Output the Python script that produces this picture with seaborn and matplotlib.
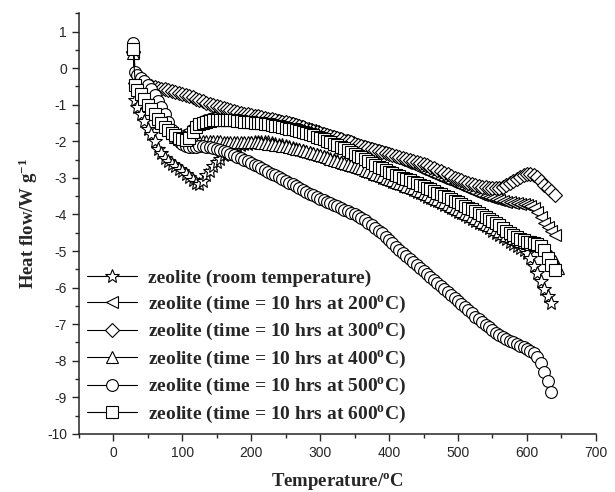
import matplotlib
matplotlib.use("Agg")
import matplotlib.pyplot as plt
import seaborn as sns
from matplotlib.ticker import MultipleLocator

# Temperature readings (degC), shared by all runs; each run uses as many as it has
temperature = [
    29, 32, 35, 40, 45, 50, 55, 60, 65, 70,
    75, 80, 85, 90, 95, 100, 105, 110, 115, 120,
    125, 130, 135, 140, 145, 150, 155, 160, 165, 170,
    175, 180, 185, 190, 195, 200, 205, 210, 215, 220,
    225, 230, 235, 240, 245, 250, 255, 260, 265, 270,
    275, 280, 285, 290, 295, 300, 305, 310, 315, 320,
    325, 330, 335, 340, 345, 350, 355, 360, 365, 370,
    375, 380, 385, 390, 395, 400, 405, 410, 415, 420,
    425, 430, 435, 440, 445, 450, 455, 460, 465, 470,
    475, 480, 485, 490, 495, 500, 505, 510, 515, 520,
    525, 530, 535, 540, 545, 550, 555, 560, 565, 570,
    575, 580, 585, 590, 595, 600, 605, 610, 615, 620,
    625, 630, 635, 640, 645,
]

# heat flow (W/g)
hf_room = [
    0.42, -0.88, -1.05, -1.25, -1.45, -1.65, -1.80, -2.00, -2.20, -2.33,
    -2.45, -2.54, -2.61, -2.68, -2.75, -2.81, -2.88, -2.97, -3.07, -3.15,
    -3.17, -3.08, -2.93, -2.80, -2.68, -2.57, -2.47, -2.38, -2.30, -2.23,
    -2.18, -2.14, -2.11, -2.08, -2.06, -2.04, -2.03, -2.02, -2.02, -2.02,
    -2.03, -2.05, -2.07, -2.09, -2.11, -2.13, -2.16, -2.19, -2.21, -2.24,
    -2.26, -2.29, -2.32, -2.34, -2.37, -2.40, -2.43, -2.46, -2.49, -2.52,
    -2.55, -2.58, -2.61, -2.64, -2.67, -2.70, -2.73, -2.77, -2.80, -2.84,
    -2.88, -2.92, -2.96, -3.00, -3.03, -3.07, -3.10, -3.14, -3.17, -3.21,
    -3.25, -3.29, -3.33, -3.38, -3.42, -3.46, -3.51, -3.55, -3.60, -3.64,
    -3.69, -3.74, -3.78, -3.83, -3.87, -3.92, -3.97, -4.02, -4.07, -4.12,
    -4.17, -4.22, -4.27, -4.32, -4.38, -4.44, -4.50, -4.56, -4.62, -4.68,
    -4.74, -4.80, -4.86, -4.92, -4.98, -5.06, -5.20, -5.40, -5.60, -5.83,
    -6.03, -6.22, -6.42,
]

hf_200 = [
    0.45, -0.45, -0.55, -0.68, -0.85, -1.00, -1.15, -1.28, -1.40, -1.52,
    -1.62, -1.70, -1.76, -1.80, -1.82, -1.82, -1.78, -1.68, -1.57, -1.48,
    -1.42, -1.38, -1.35, -1.33, -1.32, -1.31, -1.30, -1.30, -1.30, -1.30,
    -1.30, -1.31, -1.32, -1.33, -1.34, -1.35, -1.36, -1.37, -1.39, -1.40,
    -1.42, -1.43, -1.45, -1.47, -1.49, -1.51, -1.53, -1.55, -1.58, -1.61,
    -1.64, -1.67, -1.70, -1.73, -1.76, -1.79, -1.82, -1.85, -1.88, -1.91,
    -1.94, -1.97, -2.00, -2.03, -2.06, -2.09, -2.12, -2.15, -2.18, -2.21,
    -2.24, -2.27, -2.30, -2.33, -2.36, -2.39, -2.42, -2.46, -2.50, -2.54,
    -2.58, -2.62, -2.66, -2.71, -2.75, -2.79, -2.83, -2.87, -2.91, -2.95,
    -2.99, -3.03, -3.07, -3.11, -3.15, -3.19, -3.23, -3.27, -3.31, -3.35,
    -3.39, -3.43, -3.46, -3.49, -3.52, -3.55, -3.58, -3.61, -3.63, -3.65,
    -3.67, -3.68, -3.70, -3.71, -3.72, -3.74, -3.77, -3.83, -3.93, -4.08,
    -4.22, -4.35, -4.45, -4.55,
]

hf_300 = [
    0.45, -0.40, -0.45, -0.48, -0.50, -0.50, -0.50, -0.52, -0.54, -0.56,
    -0.58, -0.60, -0.62, -0.65, -0.68, -0.71, -0.74, -0.77, -0.80, -0.84,
    -0.87, -0.91, -0.94, -0.97, -1.00, -1.03, -1.06, -1.09, -1.12, -1.15,
    -1.18, -1.20, -1.22, -1.24, -1.26, -1.28, -1.30, -1.32, -1.34, -1.36,
    -1.38, -1.40, -1.42, -1.44, -1.46, -1.48, -1.51, -1.53, -1.56, -1.59,
    -1.62, -1.65, -1.68, -1.71, -1.74, -1.77, -1.80, -1.83, -1.86, -1.89,
    -1.92, -1.95, -1.98, -2.00, -2.03, -2.06, -2.09, -2.12, -2.15, -2.17,
    -2.20, -2.23, -2.26, -2.29, -2.31, -2.34, -2.37, -2.40, -2.43, -2.45,
    -2.48, -2.51, -2.54, -2.57, -2.60, -2.63, -2.66, -2.70, -2.74, -2.78,
    -2.82, -2.86, -2.90, -2.95, -2.99, -3.03, -3.07, -3.10, -3.14, -3.17,
    -3.20, -3.22, -3.24, -3.26, -3.27, -3.28, -3.29, -3.28, -3.25, -3.20,
    -3.14, -3.08, -3.02, -2.97, -2.93, -2.90, -2.89, -2.91, -2.98, -3.09,
    -3.19, -3.28, -3.37, -3.46,
]

hf_400 = [
    0.42, -0.30, -0.40, -0.50, -0.60, -0.72, -0.86, -1.00, -1.15, -1.30,
    -1.46, -1.62, -1.76, -1.87, -1.95, -2.00, -2.02, -2.02, -2.01, -2.00,
    -1.99, -1.98, -1.98, -1.98, -1.98, -1.99, -2.00, -2.01, -2.02, -2.02,
    -2.03, -2.03, -2.03, -2.03, -2.03, -2.03, -2.03, -2.03, -2.04, -2.05,
    -2.06, -2.08, -2.09, -2.10, -2.12, -2.14, -2.16, -2.18, -2.20, -2.22,
    -2.25, -2.27, -2.30, -2.32, -2.35, -2.38, -2.41, -2.44, -2.47, -2.50,
    -2.53, -2.56, -2.59, -2.62, -2.65, -2.68, -2.71, -2.74, -2.78, -2.81,
    -2.85, -2.89, -2.92, -2.96, -3.00, -3.03, -3.07, -3.10, -3.14, -3.17,
    -3.21, -3.25, -3.29, -3.33, -3.37, -3.41, -3.45, -3.50, -3.54, -3.58,
    -3.63, -3.67, -3.72, -3.76, -3.81, -3.86, -3.90, -3.95, -4.00, -4.05,
    -4.10, -4.15, -4.20, -4.25, -4.30, -4.35, -4.40, -4.45, -4.50, -4.55,
    -4.60, -4.64, -4.68, -4.72, -4.75, -4.78, -4.80, -4.82, -4.84, -4.87,
    -4.93, -5.02, -5.13, -5.27, -5.45,
]

hf_500 = [
    0.70, -0.10, -0.20, -0.28, -0.36, -0.46, -0.58, -0.74, -0.90, -1.06,
    -1.25, -1.48, -1.70, -1.88, -2.00, -2.08, -2.13, -2.15, -2.16, -2.15,
    -2.14, -2.14, -2.15, -2.16, -2.18, -2.20, -2.23, -2.26, -2.30, -2.34,
    -2.38, -2.42, -2.46, -2.50, -2.55, -2.59, -2.64, -2.68, -2.73, -2.78,
    -2.83, -2.88, -2.93, -2.98, -3.03, -3.08, -3.13, -3.18, -3.23, -3.28,
    -3.33, -3.38, -3.43, -3.48, -3.52, -3.57, -3.61, -3.66, -3.70, -3.74,
    -3.78, -3.83, -3.87, -3.91, -3.95, -4.00, -4.05, -4.10, -4.16, -4.22,
    -4.29, -4.36, -4.44, -4.52, -4.61, -4.70, -4.79, -4.88, -4.97, -5.05,
    -5.13, -5.21, -5.30, -5.38, -5.46, -5.54, -5.62, -5.70, -5.78, -5.86,
    -5.95, -6.03, -6.11, -6.19, -6.28, -6.36, -6.45, -6.53, -6.62, -6.70,
    -6.79, -6.87, -6.95, -7.02, -7.09, -7.16, -7.23, -7.30, -7.36, -7.41,
    -7.46, -7.50, -7.55, -7.59, -7.63, -7.68, -7.73, -7.80, -7.90, -8.05,
    -8.30, -8.55, -8.85,
]

hf_600 = [
    0.52, -0.47, -0.60, -0.70, -0.85, -1.00, -1.13, -1.26, -1.38, -1.50,
    -1.61, -1.70, -1.78, -1.84, -1.90, -1.94, -1.97, -1.92, -1.75, -1.62,
    -1.54, -1.49, -1.46, -1.44, -1.43, -1.42, -1.42, -1.42, -1.42, -1.42,
    -1.43, -1.44, -1.45, -1.46, -1.47, -1.48, -1.49, -1.50, -1.51, -1.53,
    -1.54, -1.56, -1.57, -1.59, -1.61, -1.63, -1.65, -1.67, -1.70, -1.72,
    -1.75, -1.78, -1.81, -1.84, -1.87, -1.91, -1.94, -1.98, -2.02, -2.06,
    -2.10, -2.15, -2.19, -2.24, -2.29, -2.34, -2.39, -2.44, -2.49, -2.54,
    -2.59, -2.64, -2.69, -2.74, -2.79, -2.83, -2.87, -2.91, -2.95, -2.99,
    -3.03, -3.07, -3.11, -3.15, -3.19, -3.23, -3.27, -3.31, -3.36, -3.40,
    -3.45, -3.49, -3.53, -3.58, -3.62, -3.67, -3.71, -3.76, -3.81, -3.86,
    -3.91, -3.96, -4.01, -4.06, -4.12, -4.18, -4.24, -4.30, -4.37, -4.44,
    -4.51, -4.57, -4.62, -4.67, -4.71, -4.74, -4.76, -4.78, -4.80, -4.85,
    -4.98, -5.20, -5.38, -5.52,
]

labels = [
    r"zeolite (room temperature)",
    r"zeolite (time = 10 hrs at 200$^{\mathbf{o}}$C)",
    r"zeolite (time = 10 hrs at 300$^{\mathbf{o}}$C)",
    r"zeolite (time = 10 hrs at 400$^{\mathbf{o}}$C)",
    r"zeolite (time = 10 hrs at 500$^{\mathbf{o}}$C)",
    r"zeolite (time = 10 hrs at 600$^{\mathbf{o}}$C)",
]
series = [hf_room, hf_200, hf_300, hf_400, hf_500, hf_600]
markers = ["*", "<", "D", "^", "o", "s"]
msizes = [10.5, 9, 7.5, 9, 8.5, 8]

sns.set_style("ticks")
plt.rcParams["font.family"] = ["Liberation Sans", "DejaVu Sans"]
plt.rcParams["axes.unicode_minus"] = False
plt.rcParams["mathtext.fontset"] = "custom"
plt.rcParams["mathtext.rm"] = "Liberation Serif"
plt.rcParams["mathtext.bf"] = "Liberation Serif:bold"
plt.rcParams["mathtext.it"] = "Liberation Serif:italic"

fig, ax = plt.subplots(figsize=(6.15, 4.92), dpi=100)
fig.subplots_adjust(left=0.128, right=0.969, bottom=0.118, top=0.973)

for vals, lab, mk, ms in zip(series, labels, markers, msizes):
    sns.lineplot(x=temperature[:len(vals)], y=vals, ax=ax, sort=False,
                 color="black", linewidth=0.8, marker=mk, markersize=ms,
                 markerfacecolor="white", markeredgecolor="black",
                 markeredgewidth=0.8, label=lab)

ax.set_xlim(-50, 700)
ax.set_ylim(-10, 1.5)
ax.xaxis.set_major_locator(MultipleLocator(100))
ax.xaxis.set_minor_locator(MultipleLocator(50))
ax.yaxis.set_major_locator(MultipleLocator(1))
ax.yaxis.set_minor_locator(MultipleLocator(0.5))
ax.set_yticks(range(-10, 2))
ax.tick_params(which="major", length=5, width=1, labelsize=10, direction="out")
ax.tick_params(which="minor", length=3, width=1, direction="out")
for s in ["left", "bottom"]:
    ax.spines[s].set_linewidth(1.1)
sns.despine(ax=ax)

serif_bold = dict(family="Liberation Serif", weight="bold", size=13.5)
ax.set_xlabel(r"Temperature/$^{\mathbf{o}}$C", fontdict=serif_bold, labelpad=8)
ax.set_ylabel(r"Heat flow/W g$^{\mathbf{-1}}$", fontdict=serif_bold, labelpad=5)

leg = ax.legend(loc="lower left", bbox_to_anchor=(0.008, 0.012), frameon=False,
                prop=dict(family="Liberation Serif", weight="bold", size=14),
                handlelength=2.6, handletextpad=0.57, labelspacing=0.33,
                borderpad=0.2, borderaxespad=0)

fig.savefig("out.png", dpi=100)
